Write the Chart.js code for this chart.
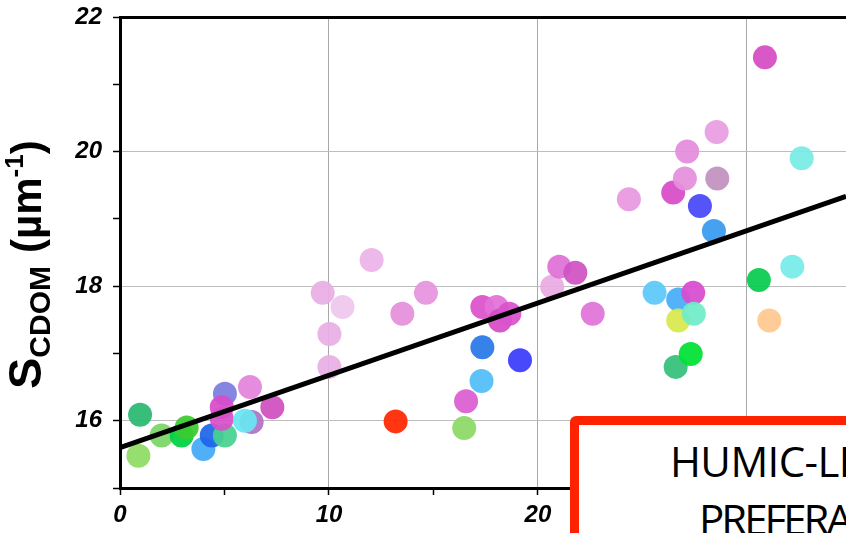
<!DOCTYPE html>
<html>
<head>
<meta charset="utf-8">
<script src="https://cdn.jsdelivr.net/npm/chart.js@4.4.1/dist/chart.umd.min.js"></script>
<style>
  html, body { margin: 0; padding: 0; background: #fff; }
  #wrap { position: relative; width: 846px; height: 533px; overflow: hidden; }
  #chart { position: absolute; left: 0; top: 0; }
  .ytitle {
    position: absolute; left: 0; top: 0;
    transform-origin: 0 0;
    transform: translate(0px, 389px) rotate(-90deg);
    font-family: "Liberation Sans", Arial, sans-serif;
    font-weight: bold; font-size: 47px; line-height: 50px;
    white-space: nowrap; color: #000;
  }
  .ytitle span { line-height: 0; }
  .ytitle .sub { font-size: 30px; vertical-align: -9px; }
  .ytitle .par { font-size: 42px; }
  .ytitle .sup { font-size: 26px; vertical-align: 18px; }
  .box {
    position: absolute; left: 570px; top: 416px; width: 400px; height: 200px;
    border: 9px solid #ff2200; border-radius: 6px; background: #fff;
  }
  .boxline {
    position: absolute; font-family: "Open Sans", sans-serif;
    font-size: 42px; line-height: 42px; white-space: nowrap; color: #000;
  }
</style>
</head>
<body>
<div id="wrap">
  <canvas id="chart" width="846" height="533"></canvas>
  <div class="ytitle">S<span class="sub">CDOM</span> <span class="par">(µm<span class="sup">-1</span>)</span></div>
  <div class="box"></div>
  <div class="boxline" style="left:670px; top:440px; letter-spacing:-0.6px;">HUMIC-LIKE</div>
  <div class="boxline" style="left:699px; top:498px; letter-spacing:-3px;">PREFERABLY</div>
</div>
<script>
// données
const xVals = [
  0.96, 0.88, 1.99, 2.95, 3.19, 3.99, 4.39, 5.02, 5.02, 4.87, 4.87, 6.22, 6.30, 5.98, 7.29,
  9.70, 10.65, 10.02, 10.02, 12.04, 13.51, 14.64, 13.19, 16.56, 16.47, 17.30, 17.34, 19.14, 17.34, 18.02, 18.18, 18.63,
  20.68, 21.02, 21.79, 22.62,
  24.35, 26.47, 27.03, 27.14, 28.55, 28.58, 27.75, 28.42, 30.86, 32.62,
  25.58, 26.71, 26.71, 27.43, 27.46, 26.59, 27.31, 30.57, 31.07, 32.17
];
const yVals = [
  16.09, 15.48, 15.78, 15.78, 15.90, 15.58, 15.78, 15.78, 16.40, 16.20, 16.03, 16.50, 15.98, 16.00, 16.20,
  17.90, 17.69, 17.29, 16.80, 18.39, 17.59, 17.90, 15.99, 16.29, 15.89, 16.59, 17.09, 16.90, 17.69, 17.69, 17.49, 17.59,
  17.99, 18.29, 18.20, 17.59,
  19.29, 19.39, 19.60, 20.00, 20.29, 19.60, 19.19, 18.82, 21.40, 19.90,
  17.90, 17.80, 17.49, 17.90, 17.59, 16.80, 16.99, 18.09, 17.49, 18.29
];
const pointColors = [
  '#2bb872', '#8edc64', '#7cd468', '#00d040', '#3ccc30', '#44aaf6', '#1e66e8', '#48d290', '#7c7ce0', '#d84ccc', '#d850c8', '#e484dc', '#b070c8', '#68e6f0', '#d050c0',
  '#e8b0e4', '#eec8ee', '#e8b0e4', '#e8b0e4', '#ecb4e8', '#e490dc', '#e694de', '#ff2800', '#dc5ed2', '#8cd866', '#50bef8', '#2878e8', '#3c3cfc', '#dc52cc', '#e272d6', '#d64cc6', '#da52cc',
  '#eaaae2', '#e070d6', '#d052c2', '#e074d8',
  '#e898e0', '#d84cc8', '#e490dc', '#e48cdc', '#e99ce1', '#c292c0', '#4848f8', '#3a9af0', '#d64cc4', '#78ece4',
  '#5cc8fa', '#48acf8', '#d8e84c', '#d84cd0', '#70ecc8', '#34c07a', '#00e234', '#08cc50', '#ffc890', '#78ece8'
];
// droite de régression (ordonnée à l'origine, pente)
const fitLine = [15.60, 0.1075];
const xTicks = [0, 10, 20, 30];
const yTicks = [16, 18, 20, 22];

const xMin = 0, xMax = 34.74;
const yMin = 15, yMax = 22;

const points = xVals.map((x, i) => ({ x: x, y: yVals[i] }));
const fitData = [xMin, xMax].map(x => ({ x: x, y: fitLine[0] + fitLine[1] * x }));

const tickFont = { family: "'Liberation Sans', Arial, sans-serif", size: 24, weight: 'bold', style: 'italic' };

new Chart(document.getElementById('chart').getContext('2d'), {
  type: 'scatter',
  data: {
    datasets: [
      {
        type: 'line',
        data: fitData,
        borderColor: '#000',
        borderWidth: 5,
        pointRadius: 0,
        order: 0
      },
      {
        data: points,
        backgroundColor: pointColors.map(c => c + 'ee'),
        borderWidth: 0,
        pointRadius: 12,
        pointHoverRadius: 12,
        order: 1
      }
    ]
  },
  options: {
    responsive: false,
    animation: false,
    devicePixelRatio: 1,
    layout: { autoPadding: false, padding: { top: 17, left: 0, right: 0, bottom: 0 } },
    plugins: { legend: { display: false }, tooltip: { enabled: false } },
    scales: {
      x: {
        type: 'linear',
        min: xMin, max: xMax,
        afterFit: s => { s.height = 45; s.paddingLeft = 0; s.paddingRight = 0; },
        ticks: {
          stepSize: 5,
          includeBounds: false,
          autoSkip: false,
          maxRotation: 0,
          padding: 6,
          color: '#000',
          font: tickFont,
          callback: v => xTicks.includes(v) ? String(v) : ''
        },
        grid: {
          color: c => (c.tick && xTicks.includes(c.tick.value) && c.tick.value > 0) ? '#a8a8a8' : 'rgba(0,0,0,0)',
          lineWidth: 1,
          tickLength: 7,
          tickColor: '#000',
          tickWidth: 1.5
        },
        border: { color: '#000', width: 3 }
      },
      y: {
        type: 'linear',
        min: yMin, max: yMax,
        afterFit: s => { s.width = 120; s.paddingTop = 0; s.paddingBottom = 0; },
        ticks: {
          stepSize: 1,
          autoSkip: false,
          padding: 11,
          color: '#000',
          font: tickFont,
          callback: v => yTicks.includes(v) ? String(v) : ''
        },
        grid: {
          color: c => {
            if (!c.tick) return 'rgba(0,0,0,0)';
            if (c.tick.value === yMax) return '#000';
            return yTicks.includes(c.tick.value) ? '#bdbdbd' : 'rgba(0,0,0,0)';
          },
          lineWidth: c => (c.tick && c.tick.value === yMax) ? 3 : 1,
          tickLength: 7,
          tickColor: '#000',
          tickWidth: 1.5
        },
        border: { color: '#000', width: 3 }
      }
    }
  }
});
</script>
</body>
</html>
